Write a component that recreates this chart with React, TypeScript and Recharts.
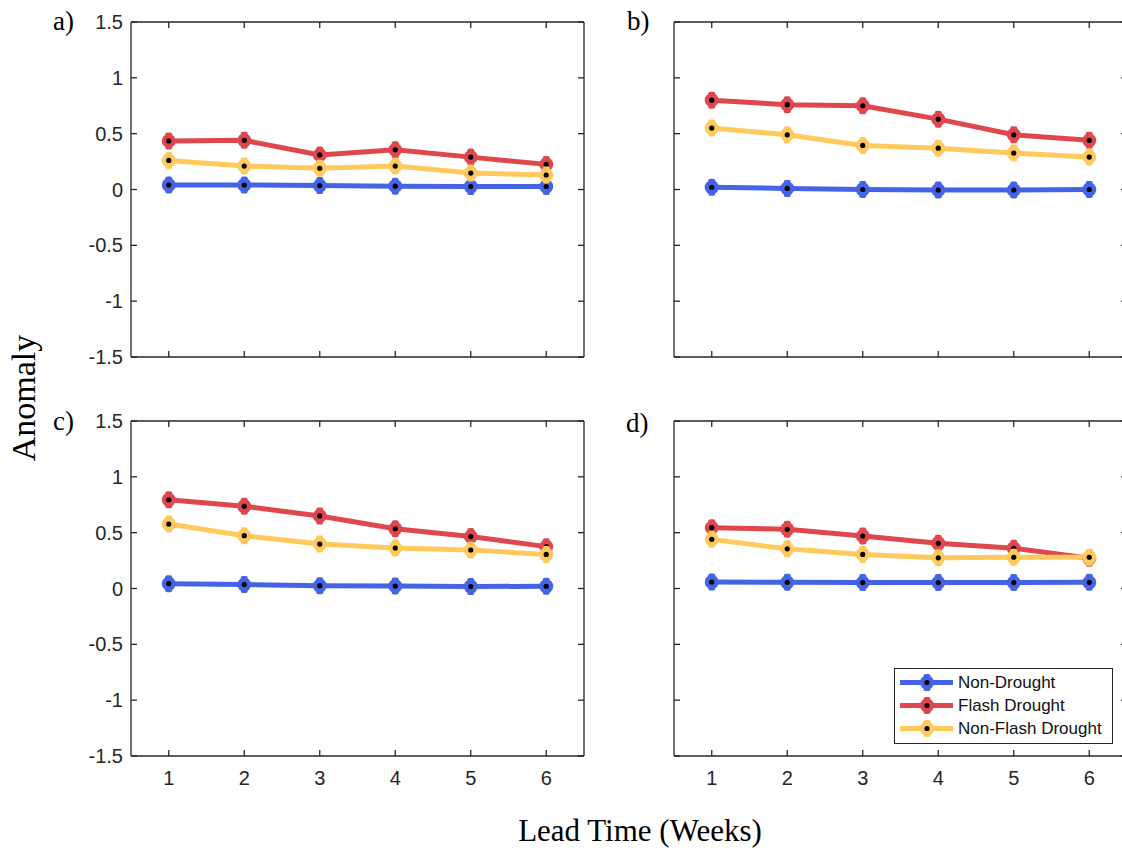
import { LineChart, Line, XAxis, YAxis } from "recharts";

// lead time axis
const leadWeeks = [1, 2, 3, 4, 5, 6];
const yTicks = [-1.5, -1, -0.5, 0, 0.5, 1, 1.5];

// panel a
const aNonDrought = [0.04, 0.04, 0.035, 0.03, 0.027, 0.027];
const aFlash = [0.435, 0.44, 0.31, 0.355, 0.29, 0.225];
const aNonFlash = [0.26, 0.21, 0.19, 0.21, 0.147, 0.13];

// panel b
const bNonDrought = [0.02, 0.01, 0.0, -0.005, -0.005, 0.0];
const bFlash = [0.8, 0.76, 0.75, 0.63, 0.49, 0.44];
const bNonFlash = [0.55, 0.49, 0.395, 0.37, 0.326, 0.29];

// panel c
const cNonDrought = [0.043, 0.035, 0.025, 0.022, 0.018, 0.02];
const cFlash = [0.795, 0.736, 0.65, 0.535, 0.465, 0.375];
const cNonFlash = [0.577, 0.473, 0.398, 0.362, 0.345, 0.305];

// panel d
const dNonDrought = [0.058, 0.055, 0.053, 0.053, 0.053, 0.055];
const dFlash = [0.545, 0.53, 0.47, 0.405, 0.36, 0.27];
const dNonFlash = [0.44, 0.355, 0.305, 0.275, 0.28, 0.28];

const seriesNames = ["Non-Drought", "Flash Drought", "Non-Flash Drought"];
const COLORS = ["#4563E6", "#E0474C", "#FFC95C"];
const INK = "#262626";
const SANS = "'Liberation Sans', Arial, Helvetica, sans-serif";
const SERIF = "'Liberation Serif', 'Times New Roman', serif";

function buildRows(nd: number[], fl: number[], nf: number[]) {
  return leadWeeks.map((w, i) => ({ week: w, nd: nd[i], fl: fl[i], nf: nf[i] }));
}

function Marker(p: any, color: string) {
  const { cx, cy, index } = p;
  if (cx == null || cy == null) return <g key={index} />;
  return (
    <g key={index}>
      <rect x={cx - 3.5} y={cy - 8.5} width={7} height={17} rx={2} fill={color} />
      <circle cx={cx} cy={cy} r={7} fill={color} />
      <circle cx={cx} cy={cy} r={2.6} fill="#000" />
    </g>
  );
}

// legend sits inside panel d, bottom right
function LegendBox() {
  return (
    <div style={{
      position: "absolute", left: 894, top: 668, width: 217, height: 72,
      border: `1.5px solid ${INK}`, background: "#fff", paddingTop: 2,
    }}>
      {seriesNames.map((name, i) => (
        <div key={name} style={{ display: "flex", alignItems: "center", height: 23 }}>
          <svg width={63} height={23} style={{ display: "block" }}>
            <line x1={5} x2={58} y1={11.5} y2={11.5} stroke={COLORS[i]} strokeWidth={5} />
            <rect x={28.5} y={3} width={7} height={17} rx={2} fill={COLORS[i]} />
            <circle cx={32} cy={11.5} r={7} fill={COLORS[i]} />
            <circle cx={32} cy={11.5} r={2.6} fill="#000" />
          </svg>
          <span style={{ fontFamily: SANS, fontSize: 17, color: "#111", whiteSpace: "nowrap" }}>{name}</span>
        </div>
      ))}
    </div>
  );
}

function Panel({ rows, left, top, showX, showY }: {
  rows: any[]; left: number; top: number; showX: boolean; showY: boolean;
}) {
  const tickStyle = { fontSize: 20, fill: INK, fontFamily: SANS };
  const blank = () => "";
  return (
    <div style={{ position: "absolute", left, top }}>
      <LineChart width={600} height={400} data={rows} margin={{ top: 0, right: 0, bottom: 0, left: 0 }}>
        <XAxis dataKey="week" type="number" domain={[0.5, 6.5]} ticks={leadWeeks} interval={0}
          allowDataOverflow height={43} stroke={INK} strokeWidth={1.3} tickSize={-6} tickMargin={21}
          tick={tickStyle} tickFormatter={showX ? undefined : blank} />
        <XAxis xAxisId="top" orientation="top" dataKey="week" type="number" domain={[0.5, 6.5]}
          ticks={leadWeeks} interval={0} allowDataOverflow height={22} stroke={INK} strokeWidth={1.3}
          tickSize={-6} tick={tickStyle} tickFormatter={blank} />
        <YAxis type="number" domain={[-1.5, 1.5]} ticks={yTicks} interval={0} allowDataOverflow
          width={131} stroke={INK} strokeWidth={1.3} tickSize={-6} tickMargin={14} tick={tickStyle}
          tickFormatter={showY ? undefined : blank} />
        <YAxis yAxisId="right" orientation="right" type="number" domain={[-1.5, 1.5]} ticks={yTicks}
          interval={0} allowDataOverflow width={16} stroke={INK} strokeWidth={1.3} tickSize={-6}
          tick={tickStyle} tickFormatter={blank} />
        <Line dataKey="nd" name={seriesNames[0]} stroke={COLORS[0]} strokeWidth={5}
          isAnimationActive={false} dot={(p: any) => Marker(p, COLORS[0])} />
        <Line dataKey="fl" name={seriesNames[1]} stroke={COLORS[1]} strokeWidth={5}
          isAnimationActive={false} dot={(p: any) => Marker(p, COLORS[1])} />
        <Line dataKey="nf" name={seriesNames[2]} stroke={COLORS[2]} strokeWidth={5}
          isAnimationActive={false} dot={(p: any) => Marker(p, COLORS[2])} />
      </LineChart>
    </div>
  );
}

export default function App() {
  return (
    <div style={{ position: "absolute", left: 0, top: 0, width: 1122, height: 850, overflow: "hidden", background: "#fff" }}>
      <Panel rows={buildRows(aNonDrought, aFlash, aNonFlash)} left={0} top={0} showX={false} showY />
      <Panel rows={buildRows(bNonDrought, bFlash, bNonFlash)} left={543} top={0} showX={false} showY={false} />
      <Panel rows={buildRows(cNonDrought, cFlash, cNonFlash)} left={0} top={399} showX showY />
      <Panel rows={buildRows(dNonDrought, dFlash, dNonFlash)} left={543} top={399} showX showY={false} />
      <LegendBox />
      <svg width={1122} height={850} style={{ position: "absolute", left: 0, top: 0, pointerEvents: "none" }}>
        <g fontFamily={SERIF} fontSize={27} fill="#000">
          <text x={53} y={30}>a)</text>
          <text x={627} y={30}>b)</text>
          <text x={53} y={430}>c)</text>
          <text x={626} y={432}>d)</text>
        </g>
        <text x={35} y={398} transform="rotate(-90 35 398)" textAnchor="middle"
          fontFamily={SERIF} fontSize={34} fill="#000">Anomaly</text>
        <text x={640} y={841} textAnchor="middle" fontFamily={SERIF} fontSize={31} fill="#000">Lead Time (Weeks)</text>
      </svg>
    </div>
  );
}
